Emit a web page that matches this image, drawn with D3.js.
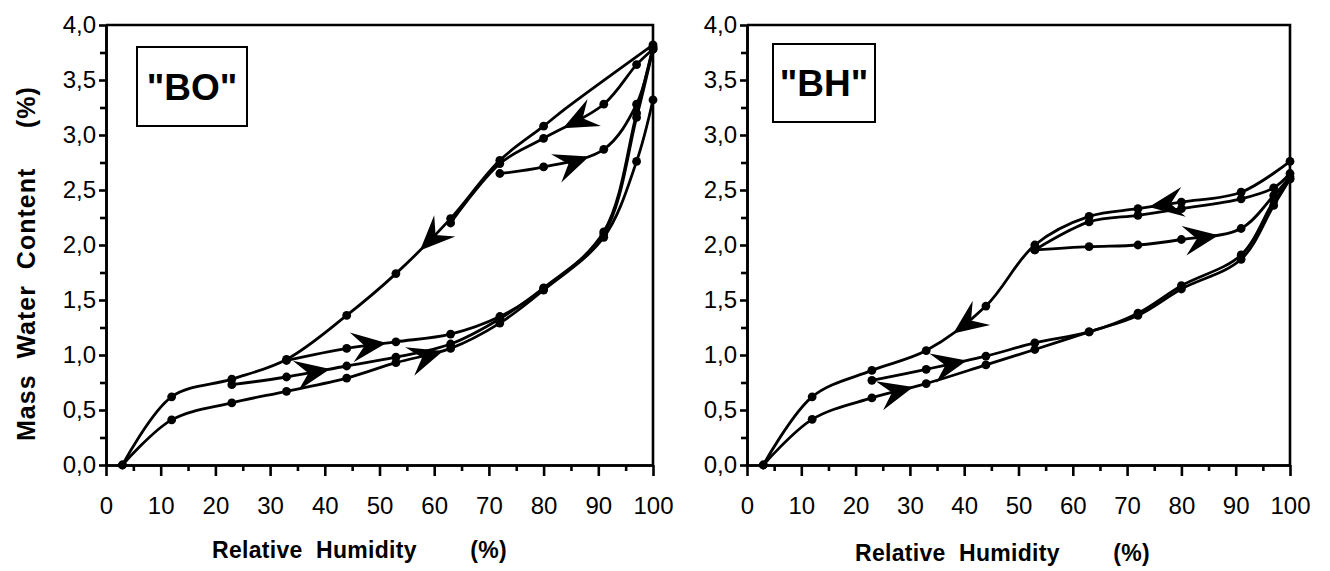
<!DOCTYPE html>
<meta charset="utf-8">
<style>
body { margin: 0; background: #fff; }
svg { display: block; background: #fff; font-family: "Liberation Sans", Arial, Helvetica, sans-serif; }
.axis text { font-size: 24px; fill: #000; font-family: "Liberation Sans", Arial, sans-serif; }
.axis path, .axis line { stroke: #000; stroke-width: 2.6px; }
.frame { fill: none; stroke: #000; stroke-width: 2.6px; }
.curve { fill: none; stroke: #000; stroke-width: 2.8px; }
.dot, .arrow { fill: #000; }
.title { font-size: 23px; font-weight: bold; letter-spacing: 0.3px; white-space: pre; }
.ytitle { font-size: 25px; font-weight: bold; letter-spacing: 1px; white-space: pre; }
.tagbox { fill: #fff; stroke: #000; stroke-width: 2px; }
.tag { font-size: 37px; font-weight: bold; }
</style>
<svg width="1330" height="571"></svg>
<script src="https://d3js.org/d3.v7.min.js"></script>
<script>

// [relative humidity %, mass water content %]

// "BO"
var boAds1 = [[3,0],[12,0.41],[23,0.565],[33,0.67],[44,0.79],[53,0.93],[63,1.06],[72,1.29],[80,1.59],[91,2.07],[97,2.76],[100,3.32]];
var boDes1 = [[100,3.82],[84,3.24],[80,3.08],[72,2.77],[63,2.24],[53,1.74],[44,1.36],[33,0.96],[23,0.78],[12,0.62],[3,0]];
var boDes2 = [[100,3.78],[97,3.64],[91,3.28],[80,2.97],[72,2.74],[63,2.2]];
var boAds72 = [[72,2.65],[80,2.71],[91,2.87],[97,3.28],[100,3.8]];
var boAds23 = [[23,0.73],[33,0.8],[44,0.9],[53,0.98],[63,1.1],[72,1.33],[80,1.61],[91,2.1],[97,3.16],[100,3.78]];
var boAds33 = [[33,0.95],[44,1.06],[53,1.12],[63,1.19],[72,1.35],[80,1.6],[91,2.12],[97,3.2],[100,3.8]];
// points that carry no dot (the 84 % knot above only shapes the line)
var boNoDot = [[84,3.24]];
// arrow tips: series name and RH
var boArrows = [["des1",57.4],["des2",83.5],["ads72",88.3],["ads33",51.3],["ads23",41],["ads1",61.6]];

// "BH"
var bhAds1 = [[3,0],[12,0.415],[23,0.61],[33,0.74],[44,0.91],[53,1.05],[63,1.21],[72,1.36],[80,1.6],[91,1.87],[97,2.36],[100,2.6]];
var bhDes1 = [[100,2.76],[91,2.48],[80,2.39],[72,2.33],[63,2.26],[53,2.0],[44,1.445],[33,1.04],[23,0.86],[12,0.62],[3,0]];
var bhDes2 = [[100,2.65],[97,2.52],[91,2.42],[80,2.33],[72,2.27],[63,2.21],[53,1.955]];
var bhAds53 = [[53,1.955],[63,1.985],[72,2.0],[80,2.05],[91,2.15],[97,2.45],[100,2.62]];
var bhAds23 = [[23,0.77],[33,0.87],[44,0.99],[53,1.11],[63,1.21],[72,1.38],[80,1.63],[91,1.91],[97,2.4],[100,2.6]];
var bhNoDot = [];
var bhArrows = [["des1",74],["des1",38],["ads53",86.8],["ads23",40.5],["ads1",30.6]];

var xTicks = d3.range(0, 101, 10);
var yTicks = d3.range(0, 4.01, 0.5);

var panels = [
  { tag: '"BO"', x0: 106, x1: 653, box: [137, 47, 110, 79],
    series: { ads1: boAds1, des1: boDes1, des2: boDes2, ads72: boAds72, ads23: boAds23, ads33: boAds33 },
    noDot: boNoDot, arrows: boArrows, titleX: 212, titleY: 558, yTitle: true },
  { tag: '"BH"', x0: 747, x1: 1290, box: [773, 44, 102, 78],
    series: { ads1: bhAds1, des1: bhDes1, des2: bhDes2, ads53: bhAds53, ads23: bhAds23 },
    noDot: bhNoDot, arrows: bhArrows, titleX: 855, titleY: 561, yTitle: false }
];

var svg = d3.select("svg");
var comma = function(d) { return d3.format(".1f")(d).replace(".", ","); };

panels.forEach(function(p) {
  var x = d3.scaleLinear().domain([0, 100]).range([p.x0, p.x1]);
  var y = d3.scaleLinear().domain([0, 4]).range([465, 25]);
  var g = svg.append("g");

  // frame top + right
  g.append("path").attr("class", "frame")
    .attr("d", "M" + x(0) + "," + y(4) + "H" + x(100) + "V" + y(0));

  // minor ticks
  g.append("g").attr("class", "axis").attr("transform", "translate(0," + y(0) + ")")
    .call(d3.axisBottom(x).tickValues(d3.range(5, 100, 10)).tickSize(6).tickSizeOuter(0).tickFormat(""));
  g.append("g").attr("class", "axis").attr("transform", "translate(" + x(0) + ",0)")
    .call(d3.axisLeft(y).tickValues(d3.range(0.25, 4, 0.5)).tickSize(6).tickSizeOuter(0).tickFormat(""));
  // major ticks with labels
  g.append("g").attr("class", "axis").attr("transform", "translate(0," + y(0) + ")")
    .call(d3.axisBottom(x).tickValues(xTicks).tickSize(11).tickPadding(21).tickSizeOuter(0).tickFormat(d3.format("d")));
  g.append("g").attr("class", "axis").attr("transform", "translate(" + x(0) + ",0)")
    .call(d3.axisLeft(y).tickValues(yTicks).tickSize(7).tickPadding(3).tickSizeOuter(0).tickFormat(comma));

  var line = d3.line()
    .x(function(d) { return x(d[0]); })
    .y(function(d) { return y(d[1]); })
    .curve(d3.curveCatmullRom.alpha(0.5));

  var isKnot = function(d) {
    return p.noDot.some(function(n) { return n[0] === d[0] && n[1] === d[1]; });
  };

  var nodes = {};
  Object.keys(p.series).forEach(function(k) {
    var data = p.series[k];
    nodes[k] = g.append("path").attr("class", "curve").attr("d", line(data)).node();
    g.selectAll(null).data(data.filter(function(d) { return !isKnot(d); })).enter().append("circle")
      .attr("class", "dot")
      .attr("cx", function(d) { return x(d[0]); })
      .attr("cy", function(d) { return y(d[1]); })
      .attr("r", 4.4);
  });

  // arrowheads sit on the drawn curve, pointing along its direction
  p.arrows.forEach(function(a) {
    var node = nodes[a[0]], tx = x(a[1]);
    var len = node.getTotalLength(), best = 0, bd = Infinity;
    for (var l = 0; l <= len; l += 0.5) {
      var pt = node.getPointAtLength(l);
      if (Math.abs(pt.x - tx) < bd) { bd = Math.abs(pt.x - tx); best = l; }
    }
    var tip = node.getPointAtLength(best);
    var p0 = node.getPointAtLength(Math.max(0, best - 5));
    var p1 = node.getPointAtLength(Math.min(len, best + 5));
    var ang = Math.atan2(p1.y - p0.y, p1.x - p0.x) * 180 / Math.PI;
    g.append("path").attr("class", "arrow")
      .attr("d", "M0,0L-35,-15L-22,0L-35,15Z")
      .attr("transform", "translate(" + tip.x + "," + tip.y + ") rotate(" + ang + ")");
  });

  // sample tag
  g.append("rect").attr("class", "tagbox")
    .attr("x", p.box[0]).attr("y", p.box[1]).attr("width", p.box[2]).attr("height", p.box[3]);
  g.append("text").attr("class", "tag")
    .attr("x", p.box[0] + p.box[2] / 2).attr("y", p.box[1] + p.box[3] / 2 + 13)
    .attr("text-anchor", "middle").text(p.tag);

  g.append("text").attr("class", "title")
    .attr("x", p.titleX).attr("y", p.titleY)
    .text("Relative  Humidity        (%)");

  if (p.yTitle) {
    g.append("text").attr("class", "ytitle")
      .attr("transform", "translate(35,441) rotate(-90)")
      .text("Mass  Water  Content     (%)");
  }
});

</script>
